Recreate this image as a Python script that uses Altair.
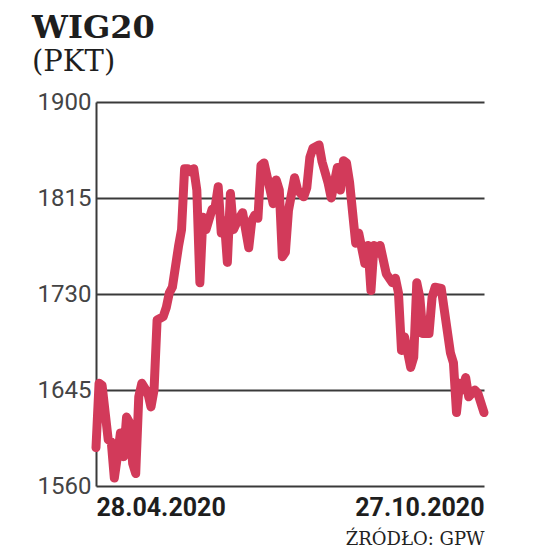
import altair as alt
import pandas as pd

# trading-day index since 28.04.2020 and WIG20 close (pkt)
day = [0, 1, 2, 4, 5, 6, 7, 8, 9, 10, 11, 12, 13, 14, 15, 17, 18, 19, 20, 22,
       23, 24, 25, 27, 28, 29, 30, 31, 32, 33, 34, 35, 36, 38, 39, 40, 41, 42, 43, 44,
       45, 46, 48, 50, 51, 52, 53, 54, 55, 57, 58, 59, 60, 61, 62, 63, 65, 66, 68, 69,
       70, 71, 73, 74, 76, 77, 79, 80, 81, 82, 83, 85, 86, 88, 89, 90, 91, 92, 93, 95,
       97, 98, 99, 100, 101, 103, 104, 105, 106, 107, 109, 110, 111, 113, 114, 116, 117, 118, 119, 120,
       121, 122, 124, 125, 127]
value = [1594, 1651, 1649, 1601, 1599, 1567, 1586, 1607, 1586, 1621, 1616, 1580, 1571, 1639, 1651, 1642, 1630, 1645, 1707, 1710,
         1718, 1731, 1736, 1772, 1787, 1841, 1841, 1838, 1841, 1822, 1740, 1798, 1787, 1805, 1807, 1825, 1784, 1795, 1758, 1819,
         1787, 1793, 1802, 1771, 1795, 1800, 1797, 1844, 1846, 1822, 1810, 1831, 1822, 1763, 1767, 1804, 1833, 1822, 1816, 1824,
         1851, 1859, 1862, 1847, 1828, 1815, 1842, 1822, 1848, 1846, 1829, 1775, 1784, 1757, 1773, 1733, 1773, 1766, 1773, 1748,
         1740, 1744, 1731, 1680, 1692, 1665, 1674, 1740, 1727, 1695, 1695, 1727, 1736, 1735, 1716, 1678, 1669, 1625, 1651, 1645,
         1656, 1639, 1645, 1642, 1625]

y_ticks = [1560, 1645, 1730, 1815, 1900]
x_label_days = [0, 127]
x_labels = ["28.04.2020", "27.10.2020"]
title_text = "WIG20"
unit_text = "(PKT)"
source_text = "ŹRÓDŁO: GPW"

df = pd.DataFrame({"day": day, "value": value})

label_expr = "datum.value == 0 ? '" + x_labels[0] + "' : '" + x_labels[1] + "'"

chart = alt.Chart(df).mark_line(
    color="#d23a5a", strokeWidth=9, strokeCap="round", strokeJoin="round"
).encode(
    x=alt.X("day:Q", scale=alt.Scale(domain=[0, 127], nice=False, zero=False),
            axis=alt.Axis(values=x_label_days, labelExpr=label_expr, grid=False, ticks=False,
                          domain=False, labelFlush=True, labelFont="Roboto", labelFontSize=25,
                          labelFontWeight="bold", labelColor="#1e1e1e", labelPadding=9,
                          title=source_text, titleFont="DejaVu Serif", titleFontSize=18,
                          titleFontWeight="normal", titleColor="#222", titleAnchor="end",
                          titlePadding=10)),
    y=alt.Y("value:Q", scale=alt.Scale(domain=[1560, 1900], nice=False, zero=False),
            axis=alt.Axis(values=y_ticks, format="d", grid=True, gridColor="#3a3a3a", gridWidth=2,
                          ticks=False, domain=True, domainColor="#3a3a3a", domainWidth=2,
                          labelFont="Roboto", labelFontSize=24, labelColor="#444",
                          labelPadding=5, title=None)),
).properties(
    width=388,
    height=384,
    padding={"left": 24, "top": 4, "right": 10, "bottom": 2},
    title=alt.TitleParams(
        text=title_text, subtitle=unit_text, anchor="start", frame="bounds",
        font="DejaVu Serif", fontSize=32, fontWeight="bold", color="#1e1e1e",
        subtitleFont="DejaVu Serif", subtitleFontSize=29, subtitleColor="#1e1e1e",
        subtitlePadding=3, offset=12, dx=-5,
    ),
).configure_view(stroke=None)

chart.save("out.html", embed_options={"renderer": "svg", "actions": False})
